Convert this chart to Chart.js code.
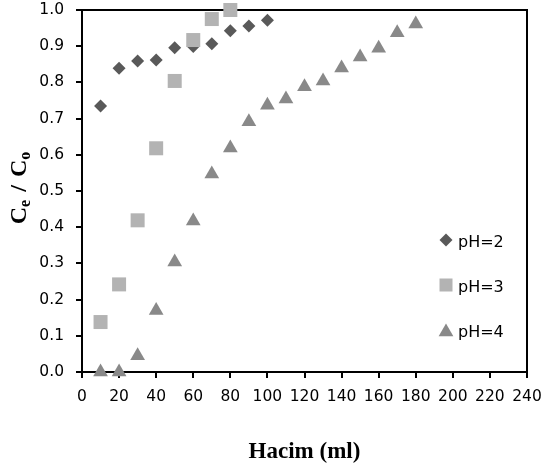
<!DOCTYPE html>
<html>
<head>
<meta charset="utf-8">
<script src="https://cdn.jsdelivr.net/npm/chart.js@4/dist/chart.umd.min.js"></script>
<style>
  html, body { margin: 0; padding: 0; background: #fff; }
  #wrap { width: 545px; height: 470px; }
</style>
</head>
<body>
<div id="wrap"><canvas id="c" width="545" height="470"></canvas></div>
<script>
// volume (ml) and Ce/Co for each pH
var volumes2 = [10, 20, 30, 40, 50, 60, 70, 80, 90, 100]
var ratio2   = [0.735, 0.839, 0.859, 0.862, 0.896, 0.899, 0.907, 0.943, 0.956, 0.972]

var volumes3 = [10, 20, 30, 40, 50, 60, 70, 80]
var ratio3   = [0.138, 0.242, 0.419, 0.618, 0.804, 0.917, 0.975, 1.0]

var volumes4 = [10, 20, 30, 40, 50, 60, 70, 80, 90, 100, 110, 120, 130, 140, 150, 160, 170, 180]
var ratio4   = [0.0, 0.0, 0.045, 0.17, 0.304, 0.417, 0.547, 0.619, 0.691, 0.737, 0.754, 0.788, 0.804, 0.84, 0.87, 0.894, 0.937, 0.961]

var seriesNames = ['pH=2', 'pH=3', 'pH=4']
var xMin = 0, xMax = 240, xStep = 20
var yMin = 0, yMax = 1, yStep = 0.1

var tickFont = { family: '"DejaVu Sans", sans-serif', size: 15.5 }
var titleFont = '"Liberation Serif", "Times New Roman", serif'

function pts(xs, ys) {
  return xs.map(function(x, i) { return { x: x, y: ys[i] } })
}

// pin the plot area: no extra room for overhanging labels
function noPad(s) {
  s.paddingLeft = 0; s.paddingRight = 0; s.paddingTop = 0; s.paddingBottom = 0
}

// top + right frame of the plot area
var frame = {
  id: 'frame',
  beforeDatasetsDraw: function(chart) {
    var a = chart.chartArea, ctx = chart.ctx
    ctx.save()
    ctx.strokeStyle = '#000'
    ctx.lineWidth = 2
    ctx.strokeRect(a.left, a.top, a.right - a.left, a.bottom - a.top)
    ctx.restore()
  }
}

// rotated y title with subscripts: Ce / Co
var yTitle = {
  id: 'yTitle',
  afterDraw: function(chart) {
    var ctx = chart.ctx
    var big = 'bold 24px ' + titleFont, small = 'bold 16px ' + titleFont
    var parts = [
      { t: 'C', f: big, dy: 0, gap: 0 },
      { t: 'e', f: small, dy: 4, gap: 8 },
      { t: '/', f: big, dy: 0, gap: 8 },
      { t: 'C', f: big, dy: 0, gap: 0 },
      { t: 'o', f: small, dy: 4, gap: 0 }
    ]
    ctx.save()
    var total = 0
    parts.forEach(function(p) { ctx.font = p.f; p.w = ctx.measureText(p.t).width; total += p.w + p.gap })
    ctx.translate(26, 188)
    ctx.rotate(-Math.PI / 2)
    ctx.fillStyle = '#000'
    ctx.textBaseline = 'alphabetic'
    var x = -total / 2
    parts.forEach(function(p) {
      ctx.font = p.f
      ctx.fillText(p.t, x, p.dy)
      x += p.w + p.gap
    })
    ctx.restore()
  }
}

// legend inside the plot, right side
var legendBox = {
  id: 'legendBox',
  afterDatasetsDraw: function(chart) {
    var ctx = chart.ctx
    var rows = [
      { y: 240, r: 6.5, base: 246.5 },
      { y: 285, r: 9.2, base: 291.5 },
      { y: 332, r: 8.5, base: 336.5 }
    ]
    ctx.save()
    chart.data.datasets.forEach(function(ds, i) {
      var row = rows[i]
      ctx.fillStyle = ds.backgroundColor
      Chart.helpers.drawPoint(ctx, { pointStyle: ds.pointStyle, radius: row.r, rotation: 0, borderWidth: 0 }, 446, row.y)
      ctx.fillStyle = '#000'
      ctx.font = '16px "DejaVu Sans", sans-serif'
      ctx.textBaseline = 'alphabetic'
      ctx.textAlign = 'left'
      ctx.fillText(ds.label, 458, row.base)
    })
    ctx.restore()
  }
}

var chart = new Chart(document.getElementById('c'), {
  type: 'scatter',
  data: {
    datasets: [
      { label: seriesNames[0], data: pts(volumes2, ratio2), pointStyle: 'rectRot', pointRadius: 6.5,
        backgroundColor: '#595959', borderWidth: 0, order: 2, clip: false },
      { label: seriesNames[1], data: pts(volumes3, ratio3), pointStyle: 'rect', pointRadius: 9.9,
        backgroundColor: '#b3b3b3', borderWidth: 0, order: 1, clip: false },
      { label: seriesNames[2], data: pts(volumes4, ratio4), pointStyle: 'triangle', pointRadius: 8.5,
        backgroundColor: '#898989', borderWidth: 0, order: 3, clip: false }
    ]
  },
  options: {
    responsive: false,
    animation: false,
    devicePixelRatio: 1,
    layout: { padding: { left: 0, right: 18, top: 10, bottom: 0 } },
    plugins: { legend: { display: false }, tooltip: { enabled: false } },
    scales: {
      x: {
        type: 'linear', min: xMin, max: xMax,
        ticks: { stepSize: xStep, padding: 10, color: '#000', font: tickFont, maxRotation: 0, autoSkip: false },
        grid: { drawOnChartArea: false, tickLength: 6, color: '#000', lineWidth: 2 },
        border: { color: '#000', width: 2 },
        title: { display: true, text: 'Hacim (ml)', color: '#000',
                 font: { family: titleFont, size: 23, weight: 'bold' }, padding: { top: 0, bottom: 4 } },
        afterFit: function(s) { s.height = 98; noPad(s) }
      },
      y: {
        type: 'linear', min: yMin, max: yMax,
        ticks: { stepSize: yStep, padding: 12, color: '#000', font: tickFont,
                 callback: function(v) { return v.toFixed(1) } },
        grid: { drawOnChartArea: false, tickLength: 6, color: '#000', lineWidth: 2 },
        border: { color: '#000', width: 2 },
        afterFit: function(s) { s.width = 82; noPad(s) }
      }
    }
  },
  plugins: [frame, yTitle, legendBox]
})
</script>
</body>
</html>
